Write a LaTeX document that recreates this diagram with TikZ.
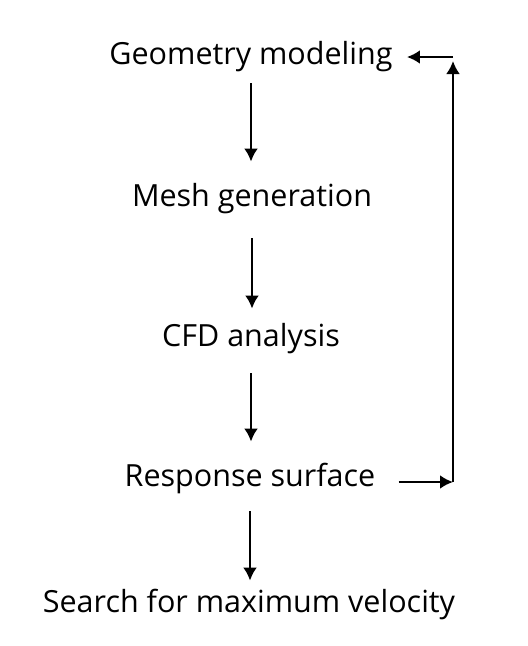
\documentclass[tikz,border=0pt]{standalone}
\usepackage{fontspec}
\setmainfont{Open Sans}
\usetikzlibrary{arrows.meta}

\begin{document}
\begin{tikzpicture}[
        x=1pt, y=-1pt,
        font=\fontsize{30.5}{34}\selectfont,
        step box/.style = {inner sep=0pt, anchor=base, text height=21pt, text depth=7pt},
        arrow/.style = {-{Latex[length=13pt, width=14pt]}},
        line width=2.8pt
    ]
    \useasboundingbox (0,0) rectangle (528,646);

    \node (geom)   at (251,64)  [step box] {Geometry modeling};
    \node (mesh)   at (252,206) [step box] {Mesh generation};
    \node (cfd)    at (251,346) [step box] {CFD analysis};
    \node (resp)   at (250,486) [step box] {Response surface};
    \node (search) at (249,612) [step box] {Search for maximum velocity};

    \coordinate (loopB) at (453,482);
    \coordinate (loopT) at (geom.east -| loopB);

    \draw[arrow, shorten <=11pt, shorten >=22pt] (geom.south) -- (geom.south |- mesh.north);
    \draw[arrow, shorten <=24pt, shorten >=15pt] (mesh.south) -- (mesh.south |- cfd.north);
    \draw[arrow, shorten <=19pt, shorten >=22pt] (cfd.south) -- (cfd.south |- resp.north);
    \draw[arrow, shorten <=17pt, shorten >=9pt] (resp.south) -- (resp.south |- search.north);

    \draw[arrow, shorten <=22pt] (resp.east |- loopB) -- (loopB);
    \draw[arrow, shorten >=4pt] (loopB) -- (loopT);
    \draw[arrow, shorten >=13pt] (loopT) -- (geom.east);
\end{tikzpicture}
\end{document}
